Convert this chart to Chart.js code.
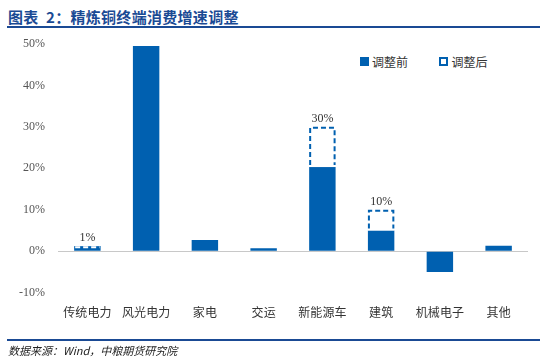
<!DOCTYPE html>
<html>
<head>
<meta charset="utf-8">
<script src="https://cdn.jsdelivr.net/npm/chart.js@4/dist/chart.umd.min.js"></script>
<style>
  body { margin: 0; background: #fff; }
  #wrap { position: relative; width: 547px; height: 360px; overflow: hidden; }
  #title { position: absolute; left: 8px; top: 6px; font: bold 15px "Noto Sans CJK SC"; color: #1a4a94; letter-spacing: 0.3px; }
  .rule { position: absolute; left: 7px; width: 533px; height: 2px; background: #1a4a94; }
  #source { position: absolute; left: 8px; top: 342px; font: italic 11px "Noto Sans CJK SC"; color: #222; }
  #legend { position: absolute; left: 360px; top: 51px; font: 12px "Noto Sans CJK SC"; color: #333; }
  #legend span { display: inline-block; vertical-align: middle; }
  .sw { width: 9px; height: 9px; margin-right: 3px; box-sizing: border-box; }
  canvas { position: absolute; left: 0; top: 0; }
</style>
</head>
<body>
<div id="wrap">
  <div id="title">图表&nbsp; 2：精炼铜终端消费增速调整</div>
  <div class="rule" style="top:26px"></div>
  <div id="legend">
    <span class="sw" style="background:#0060b0"></span><span>调整前</span>
    <span style="width:26px"></span>
    <span class="sw" style="border:2px dashed #0060b0"></span><span>调整后</span>
  </div>
  <canvas id="chart" width="547" height="360"></canvas>
  <div class="rule" style="top:339px"></div>
  <div id="source">数据来源：Wind，中粮期货研究院</div>
</div>
<script>
// 数据
const categories = ["传统电力", "风光电力", "家电", "交运", "新能源车", "建筑", "机械电子", "其他"];
const before = [1.2, 49.5, 2.7, 0.7, 20.3, 5.0, -5.0, 1.3];
const after = [1.0, null, null, null, 30, 10, null, null];
const afterLabels = ["1%", null, null, null, "30%", "10%", null, null];
const yTicks = [-10, 0, 10, 20, 30, 40, 50];

const blue = "#0060b0";

// 画虚线框和数值标签
const dashedPlugin = {
  id: "dashed",
  afterDatasetsDraw(chart) {
    const ctx = chart.ctx;
    const meta = chart.getDatasetMeta(1);
    meta.data.forEach((bar, i) => {
      if (after[i] == null) return;
      const w = bar.width;
      const top = Math.min(bar.y, bar.base);
      const bottom = Math.max(bar.y, bar.base);
      const l = bar.x - w / 2 + 1, r = bar.x + w / 2 - 1;
      ctx.save();
      ctx.fillStyle = "#fff";
      ctx.fillRect(bar.x - w / 2, top, w, bottom - top);
      ctx.lineWidth = 2;
      ctx.setLineDash([5, 3]);
      if (after[i] < before[i]) {
        // 下调：在实心柱顶部画白色虚线
        ctx.fillStyle = blue;
        ctx.fillRect(bar.x - w / 2, top, w, bottom - top);
        ctx.strokeStyle = "#fff";
        ctx.beginPath();
        ctx.moveTo(l, top + 1);
        ctx.lineTo(r, top + 1);
        ctx.stroke();
      } else {
        ctx.strokeStyle = blue;
        ctx.beginPath();
        ctx.moveTo(l, bottom - 2);
        ctx.lineTo(l, top + 1);
        ctx.lineTo(r, top + 1);
        ctx.lineTo(r, bottom - 2);
        ctx.stroke();
      }
      ctx.restore();

      const yTop = chart.scales.y.getPixelForValue(Math.max(after[i], before[i]));
      ctx.save();
      ctx.font = "12px 'Liberation Serif'";
      ctx.fillStyle = "#333";
      ctx.textAlign = "center";
      ctx.textBaseline = "bottom";
      ctx.fillText(afterLabels[i], bar.x, yTop - 2);
      ctx.restore();
    });
  }
};

const ctx = document.getElementById("chart").getContext("2d");
new Chart(ctx, {
  type: "bar",
  data: {
    labels: categories,
    datasets: [{
      label: "调整前",
      data: before,
      backgroundColor: blue,
      borderWidth: 0,
      grouped: false,
      categoryPercentage: 1,
      barPercentage: 0.45
    }, {
      label: "调整后",
      data: after.map((v, i) => v == null ? null : [before[i], v]),
      backgroundColor: "rgba(0,0,0,0)",
      borderWidth: 0,
      grouped: false,
      categoryPercentage: 1,
      barPercentage: 0.45
    }]
  },
  options: {
    responsive: false,
    animation: false,
    layout: { padding: { left: 0, right: 19, top: 44, bottom: 35 } },
    plugins: {
      legend: { display: false },
      tooltip: { enabled: false }
    },
    scales: {
      x: {
        grid: { display: false },
        border: { display: false },
        ticks: {
          padding: 5,
          color: "#333",
          font: { family: "Noto Sans CJK SC", size: 12 }
        }
      },
      y: {
        min: -10,
        max: 50,
        afterBuildTicks: scale => { scale.ticks = yTicks.map(v => ({ value: v })); },
        afterFit: scale => { scale.width = 58; },
        border: { display: false },
        grid: {
          drawTicks: false,
          lineWidth: 1,
          color: c => c.tick && c.tick.value === 0 ? "#c8c8c8" : "rgba(0,0,0,0)"
        },
        ticks: {
          padding: 13,
          color: "#555",
          font: { family: "Liberation Serif", size: 12 },
          callback: v => v + "%"
        }
      }
    }
  },
  plugins: [dashedPlugin]
});
</script>
</body>
</html>
